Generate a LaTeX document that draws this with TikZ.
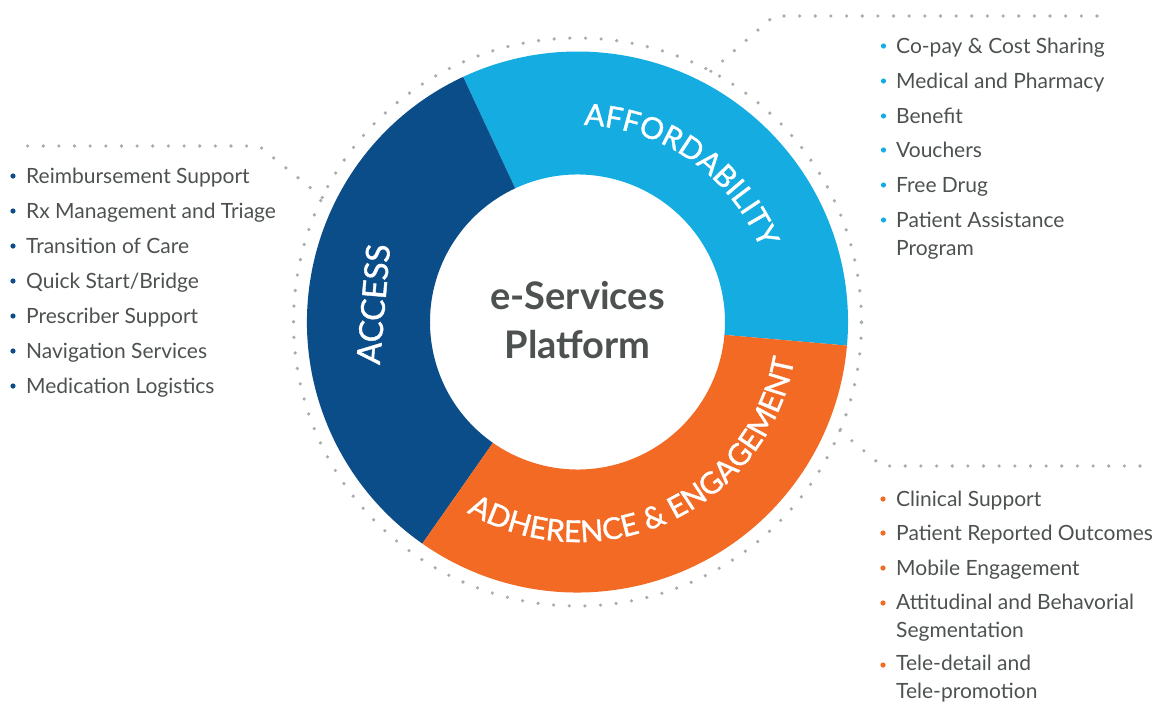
\documentclass[tikz,border=0pt]{standalone}
\usepackage{fontspec}
\setmainfont{Lato}
\newfontfamily\ringfam{Lato}[FakeBold=1.2]
\usetikzlibrary{decorations.text,calc}
\definecolor{accblue}{HTML}{0B4D89}
\definecolor{affcyan}{HTML}{15ACE2}
\definecolor{adhorange}{HTML}{F26A24}
\definecolor{txtgray}{HTML}{4D5251}
\definecolor{dotgray}{HTML}{A9ABAE}
\newcommand\ringfont{\ringfam\fontsize{30}{30}\selectfont}
\newcommand\itemfont{\fontsize{21}{27.5}\selectfont}
\begin{document}
\begin{tikzpicture}[x=1pt,y=1pt,
  item/.style={anchor=base west, inner sep=0pt, text=txtgray, font=\itemfont, align=left},
  dots/.style={draw=dotgray, line width=3.6pt, line cap=round, dash pattern=on 0pt off 15.65pt},
  ringtext/.style={decorate, decoration={text along path, text align=center, text color=white}}]
\useasboundingbox (0,0) rectangle (1154,-702);
\coordinate (C) at (577.5,-322);
% ring segments
\fill[affcyan] ([shift={(-5:270.5pt)}]C) arc[start angle=-5,end angle=115,radius=270.5pt]
  -- ([shift={(115:147.5pt)}]C) arc[start angle=115,end angle=-5,radius=147.5pt] -- cycle;
\fill[accblue] ([shift={(115:270.5pt)}]C) arc[start angle=115,end angle=235,radius=270.5pt]
  -- ([shift={(235:147.5pt)}]C) arc[start angle=235,end angle=115,radius=147.5pt] -- cycle;
\fill[adhorange] ([shift={(235:270.5pt)}]C) arc[start angle=235,end angle=355,radius=270.5pt]
  -- ([shift={(355:147.5pt)}]C) arc[start angle=355,end angle=235,radius=147.5pt] -- cycle;
% dotted circle and leaders
\draw[dots] (C) circle[radius=284pt];
\coordinate (trA) at ([shift={(62:284pt)}]C);
\coordinate (trB) at (774,-16);
\coordinate (trC) at (1106,-16);
\coordinate (lA) at ([shift={(154:284pt)}]C);
\coordinate (lB) at (259,-146);
\coordinate (lC) at (12,-146);
\coordinate (brA) at ([shift={(-22.5:284pt)}]C);
\coordinate (brB) at (882,-466);
\coordinate (brC) at (1142,-466);
\draw[dots] (trA) -- (trB) -- (trC);
\draw[dots] (lA) -- (lB) -- (lC);
\draw[dots] (brA) -- (brB) -- (brC);
% ring labels
\path[ringtext, decoration={text={|\ringfont|AFFORDABILITY}}]
  ([shift={(140:197pt)}]C) arc[start angle=140,end angle=-30,radius=197pt];
\path[ringtext, decoration={text={|\ringfont|ADHERENCE {\&} ENGAGEMENT}}]
  ([shift={(205:220pt)}]C) arc[start angle=205,end angle=385,radius=220pt];
\node[rotate=85, text=white, font=\ringfam\fontsize{33}{33}\selectfont, inner sep=0pt] (access) at ([shift={(175:205pt)}]C) {ACCESS};
% title
\node[font=\bfseries\fontsize{38}{49}\selectfont, text=txtgray, align=center, inner sep=0pt] (title) at (577.5,-320) {e-Services\\Platform};
% left list
\foreach \t [count=\i] in {Reimbursement Support, Rx Management and Triage, Transition of Care, Quick Start/Bridge, Prescriber Support, Navigation Services, Medication Logistics} {
  \node[item] (L\i) at (26,{-183-35*(\i-1)}) {\t};
  \fill[accblue] (13,{-176-35*(\i-1)}) circle[radius=2.6pt];
}
% top right list (text / baseline of last line / baseline of first line)
\foreach \t/\yb/\y [count=\i] in {Co-pay \& Cost Sharing/53/53, Medical and Pharmacy/88/88, Benefit/123/123, Vouchers/157/157, Free Drug/192/192, {Patient Assistance\\Program}/255/227} {
  \node[item, font=\fontsize{21}{28}\selectfont] (R\i) at (896,-\yb) {\t};
  \fill[affcyan] (883.5,{-\y+7}) circle[radius=2.6pt];
}
% bottom right list
\foreach \t/\yb/\y [count=\i] in {Clinical Support/506/506, Patient Reported Outcomes/540/540, Mobile Engagement/575/575, {Attitudinal and Behavorial\\Segmentation}/637/610, {Tele-detail and\\Tele-promotion}/698/672} {
  \node[item] (B\i) at (896,-\yb) {\t};
  \fill[adhorange] (883,{-\y+7}) circle[radius=2.6pt];
}
\end{tikzpicture}
\end{document}
